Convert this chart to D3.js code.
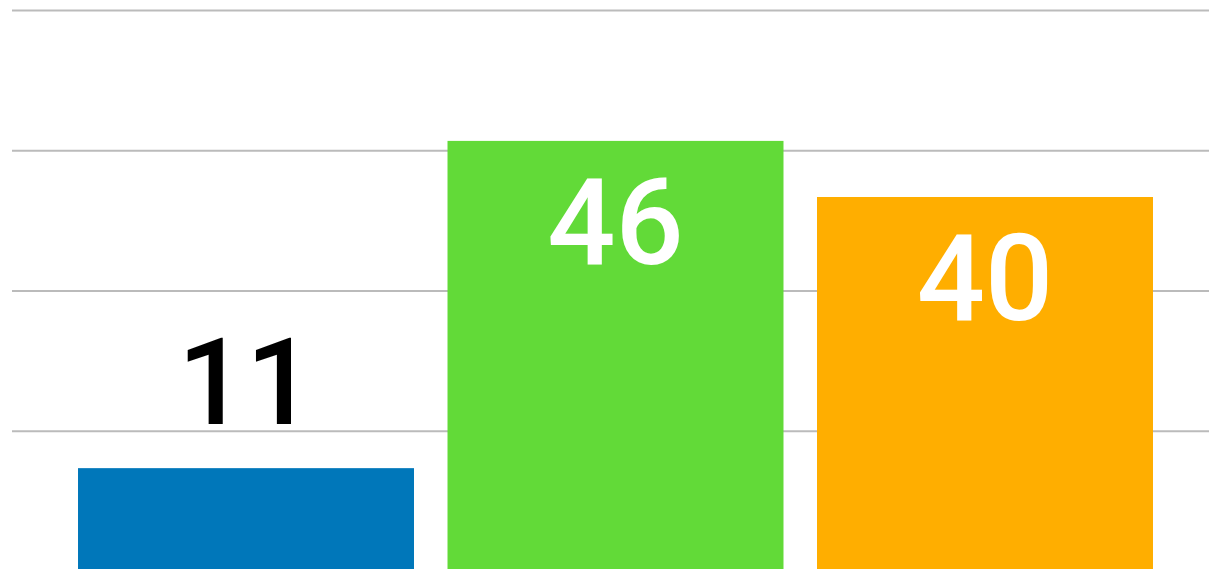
<!DOCTYPE html>
<html>
<head>
<meta charset="utf-8">
<script src="https://cdn.jsdelivr.net/npm/d3@7"></script>
<style>
  html, body { margin: 0; padding: 0; background: #fff; overflow: hidden; }
  svg { display: block; }
</style>
</head>
<body>
<div id="chart"></div>
<script>
// Chart data
const CATEGORIES = ["A", "B", "C"];
const VALUES = [11, 46, 40];
const COLORS = ["#0077BA", "#62DA38", "#FFAE00"];
const GRID_TICKS = [15, 30, 45, 60];

const WIDTH = 1209;
const HEIGHT = 569;

const svg = d3.select("#chart").append("svg").attr("width", WIDTH).attr("height", HEIGHT);

const x = d3.scaleBand().domain(CATEGORIES).range([44.5, 1186.5]).paddingInner(0.0907).paddingOuter(0.0907);
const y = d3.scaleLinear().domain([0, 60]).range([571, 10]);

// gridlines
const grid = d3.axisLeft(y).tickValues(GRID_TICKS).tickSize(-(WIDTH - 12)).tickFormat("");
svg.append("g")
  .attr("transform", `translate(12,0)`)
  .call(grid)
  .call(g => g.select(".domain").remove())
  .call(g => g.selectAll("line").attr("stroke", "#bbbbbb").attr("stroke-width", 2));

// bars
svg.selectAll("rect.bar").data(VALUES).enter()
  .append("rect")
  .attr("class", "bar")
  .attr("x", (d, i) => x(CATEGORIES[i]))
  .attr("y", d => y(d))
  .attr("width", x.bandwidth())
  .attr("height", d => y(0) - y(d))
  .attr("fill", (d, i) => COLORS[i]);

// value labels: inside when the bar is tall enough, above otherwise
svg.selectAll("text.label").data(VALUES).enter()
  .append("text")
  .attr("class", "label")
  .attr("x", (d, i) => x(CATEGORIES[i]) + x.bandwidth() / 2)
  .attr("y", d => (y(0) - y(d) > 200 ? y(d) + 123 : y(d) - 44))
  .attr("text-anchor", "middle")
  .attr("font-family", "Roboto, 'Open Sans', sans-serif")
  .attr("font-weight", 500)
  .attr("font-size", "120px")
  .attr("fill", d => (y(0) - y(d) > 200 ? "#ffffff" : "#000000"))
  .text(d => d);
</script>
</body>
</html>
